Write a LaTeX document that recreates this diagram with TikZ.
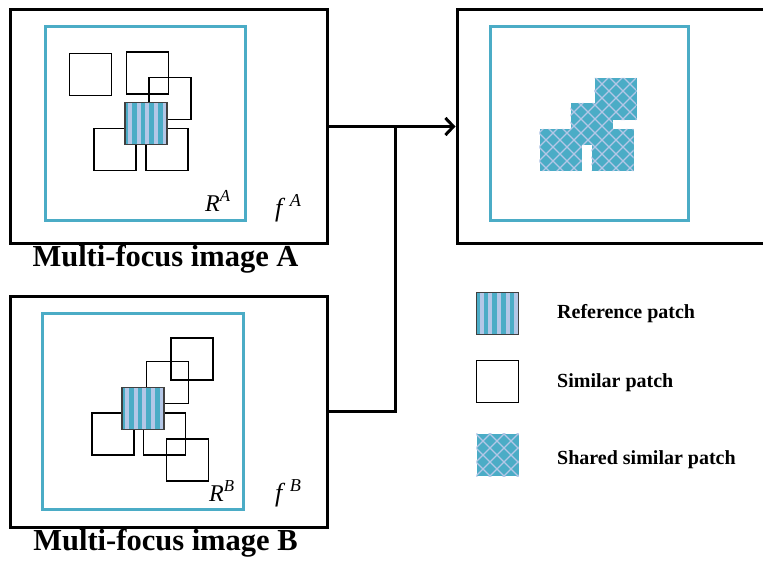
\documentclass[tikz,border=0pt]{standalone}
\usepackage{fontspec}
\setmainfont{Liberation Serif}
\usetikzlibrary{arrows.meta}
\definecolor{aqua}{HTML}{4BACC6}
\definecolor{lavender}{HTML}{B4C7E7}
\tikzset{
	frame/.style={draw=black,line width=3pt,inner sep=0pt},
	region/.style={draw=aqua,line width=3pt},
	patch/.style={draw=black,line width=1.4pt,minimum size=42pt,inner sep=0pt},
	refpatch/.style={patch,draw=black!75,fill=aqua,
		path picture={
			\foreach \i in {0,...,4}
				\fill[lavender]
					([xshift=\i*8.6pt+3.2pt]path picture bounding box.south west) rectangle ++(4pt,50pt);
		}},
	sharedpatch/.style={minimum size=42pt,inner sep=0pt,fill=aqua},
	hatch/.style={lavender,line width=1.2pt},
	conn/.style={line width=3pt},
	caption/.style={font=\fontsize{30.5}{30.5}\selectfont\bfseries,inner sep=0pt,anchor=base},
	legend/.style={font=\fontsize{20}{20}\selectfont\bfseries,inner sep=0pt,anchor=base west},
	lbl/.style={font=\fontsize{24}{24}\selectfont,inner sep=0pt,anchor=base west}
}
% diagonal grid used on the shared patches
\newcommand\hatchlines{%
	\foreach \c in {-14,0,...,574} \draw[hatch] (\c,0) -- ++(600,600);
	\foreach \d in {602,616,...,1008} \draw[hatch] (\d,0) -- ++(-600,600);
}
\begin{document}
\begin{tikzpicture}[x=1pt,y=-1pt]
	\path[use as bounding box] (0,0) rectangle (763,567);
	\clip (0,0) rectangle (763,567);

	%% Image A
	\node[frame,minimum width=317pt,minimum height=233pt] (imgA) at (168.5,126.5) {};
	\draw[region] (45,27) rectangle (245,220);
	\node[patch] (a1) at (90.5,74.5) {};
	\node[patch] (a2) at (147.5,73) {};
	\node[patch] (a3) at (170,98.5) {};
	\node[patch] (a4) at (115,149.5) {};
	\node[patch] (a5) at (167,149.5) {};
	\node[refpatch] (aref) at (146,123.5) {};
	\node[lbl] (rA) at (205,211) {\textit{R}\textsuperscript{\textit{A}}};
	\node[lbl,font=\fontsize{26}{26}\selectfont] (fA) at (275,216) {\textit{f}\,\textsuperscript{\textit{A}}};
	\node[caption] (capA) at (165.5,266) {Multi-focus image A};

	%% Image B
	\node[frame,minimum width=317pt,minimum height=231pt] (imgB) at (168.5,411.5) {};
	\draw[region] (42,313) rectangle (243,509);
	\node[patch] (b1) at (192,359) {};
	\node[patch] (b2) at (167.5,382.5) {};
	\node[patch] (b3) at (113,434) {};
	\node[patch] (b4) at (164.5,434) {};
	\node[patch] (b5) at (187.5,460) {};
	\node[refpatch] (bref) at (143,408.5) {};
	\node[lbl] (rB) at (209,501) {\textit{R}\textsuperscript{\textit{B}}};
	\node[lbl,font=\fontsize{26}{26}\selectfont] (fB) at (275,501) {\textit{f}\,\textsuperscript{\textit{B}}};
	\node[caption] (capB) at (165.5,550) {Multi-focus image B};

	%% Fused result
	\node[frame,minimum width=343pt,minimum height=233pt] (fused) at (628.5,126.5) {};
	\draw[region] (490,27) rectangle (688,220);
	\node[sharedpatch] (s1) at (615.5,99) {};
	\node[sharedpatch] (s2) at (591.5,124) {};
	\node[sharedpatch] (s3) at (560.5,150) {};
	\node[sharedpatch] (s4) at (612.5,150) {};
	\begin{scope}
		\clip (s1.north west) rectangle (s1.south east)
			(s2.north west) rectangle (s2.south east)
			(s3.north west) rectangle (s3.south east)
			(s4.north west) rectangle (s4.south east);
		\hatchlines
	\end{scope}

	%% Connectors
	\coordinate (join) at (395,126.5);
	\draw[conn,-{Straight Barb[length=8pt,width=17pt]}] (imgA.east) -- (fused.west);
	\draw[conn] (imgB.east) -| (join);

	%% Legend
	\node[refpatch] (keyref) at (497.5,313.5) {};
	\node[patch,line width=1.5pt] (keysim) at (497.5,381.5) {};
	\node[sharedpatch] (keyshared) at (497.5,455) {};
	\begin{scope}
		\clip (keyshared.north west) rectangle (keyshared.south east);
		\hatchlines
	\end{scope}
	\node[legend] (tref) at (557,318) {Reference patch};
	\node[legend] (tsim) at (557,387) {Similar patch};
	\node[legend] (tshared) at (557,464) {Shared similar patch};
\end{tikzpicture}
\end{document}
